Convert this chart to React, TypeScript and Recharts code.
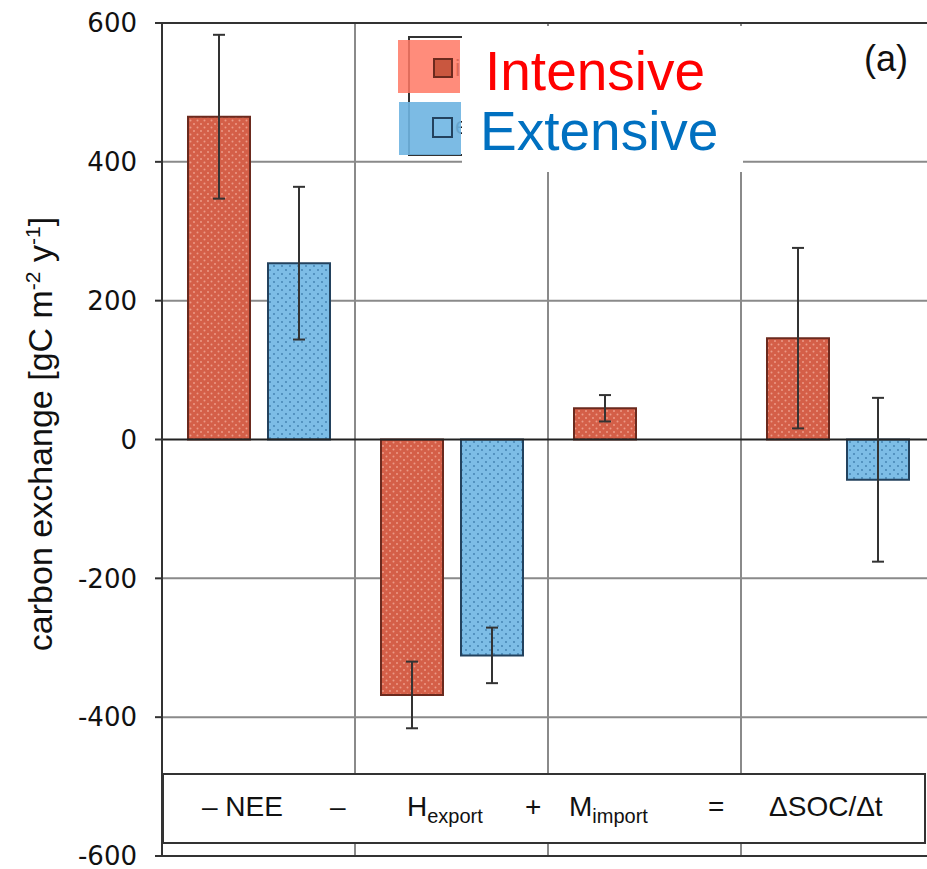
import React from "react";
import {
  Bar,
  CartesianGrid,
  ComposedChart,
  ErrorBar,
  ReferenceLine,
  XAxis,
  YAxis,
} from "recharts";

// values (gC m-2 y-1)
const categories = ["NEE", "Hexport", "Mimport", "dSOC"];
const intensive = [465, -368, 45, 146];
const intensiveErr = [118, 48, 19, 130];
const extensive: (number | null)[] = [254, -311, null, -58];
const extensiveErr: (number | null)[] = [110, 40, null, 118];
const yTicks = [-600, -400, -200, 0, 200, 400, 600];

const data = categories.map((name, i) => ({
  name,
  intensive: intensive[i],
  intensiveErr: intensiveErr[i],
  extensive: extensive[i],
  extensiveErr: extensiveErr[i],
}));

const sans = '"Liberation Sans", Arial, sans-serif';
const wide = '"DejaVu Sans", Arial, sans-serif';

const YLabel = () => (
  <text
    transform="translate(52, 434) rotate(-90)"
    textAnchor="middle"
    fontFamily={sans}
    fontSize={34}
    fill="#111"
  >
    carbon exchange [gC m
    <tspan dy={-12} fontSize={21}>-2</tspan>
    <tspan dy={12}> y</tspan>
    <tspan dy={-12} fontSize={21}>-1</tspan>
    <tspan dy={12}>]</tspan>
  </text>
);

export default function App() {
  return (
    <div
      style={{
        position: "absolute",
        left: 0,
        top: 0,
        width: 927,
        height: 869,
        overflow: "hidden",
        background: "#fff",
      }}
    >
      {/* dotted fills */}
      <svg width={0} height={0} style={{ position: "absolute" }}>
        <defs>
          <pattern id="dotRed" width={7} height={7} patternUnits="userSpaceOnUse">
            <rect width={7} height={7} fill="#d45f48" />
            <circle cx={1.5} cy={1.5} r={1} fill="#ec9a87" />
            <circle cx={5} cy={5} r={1} fill="#ec9a87" />
          </pattern>
          <pattern id="dotBlue" width={8} height={8} patternUnits="userSpaceOnUse">
            <rect width={8} height={8} fill="#7dbde6" />
            <circle cx={2} cy={2} r={0.9} fill="#3f7fae" />
            <circle cx={6} cy={6} r={0.9} fill="#3f7fae" />
          </pattern>
        </defs>
      </svg>

      <ComposedChart
        width={934}
        height={869}
        data={data}
        margin={{ top: 23, right: 0, bottom: 13, left: 0 }}
        barGap={18}
      >
        <CartesianGrid
          stroke="#8a8a8a"
          strokeWidth={2}
          horizontalValues={[-400, -200, 200, 400]}
          verticalCoordinatesGenerator={({ offset }: any) =>
            [1, 2, 3].map((i) => offset.left + (offset.width * i) / 4)
          }
        />
        <XAxis dataKey="name" hide />
        <YAxis
          width={162}
          domain={[-600, 600]}
          ticks={yTicks}
          interval={0}
          tick={{ fontFamily: wide, fontSize: 26, fill: "#111" }}
          tickSize={7}
          tickMargin={18}
          tickLine={{ stroke: "#333", strokeWidth: 2 }}
          axisLine={{ stroke: "#333", strokeWidth: 2 }}
          label={<YLabel />}
        />
        <ReferenceLine y={600} stroke="#333" strokeWidth={2} />
        <ReferenceLine y={-600} stroke="#333" strokeWidth={2} />
        <ReferenceLine y={0} stroke="#222" strokeWidth={2} />
        <Bar
          dataKey="intensive"
          barSize={62}
          fill="url(#dotRed)"
          stroke="#6b2a1e"
          strokeWidth={2}
          isAnimationActive={false}
        >
          <ErrorBar dataKey="intensiveErr" width={6} stroke="#333" strokeWidth={2} />
        </Bar>
        <Bar
          dataKey="extensive"
          barSize={62}
          fill="url(#dotBlue)"
          stroke="#23425e"
          strokeWidth={2}
          isAnimationActive={false}
        >
          <ErrorBar dataKey="extensiveErr" width={6} stroke="#333" strokeWidth={2} />
        </Bar>
      </ComposedChart>

      {/* equation box */}
      <div
        style={{
          position: "absolute",
          left: 162,
          top: 773,
          width: 760,
          height: 67,
          border: "2px solid #333",
          background: "#fff",
          fontFamily: sans,
          fontSize: 28,
          color: "#111",
        }}
      >
        {[
          { x: 38, t: <>– NEE</> },
          { x: 166, t: <>–</> },
          { x: 243, t: <>H<sub style={{ fontSize: 20, lineHeight: 0 }}>export</sub></> },
          { x: 361, t: <>+</> },
          { x: 405, t: <>M<sub style={{ fontSize: 20, lineHeight: 0 }}>import</sub></> },
          { x: 544, t: <>=</> },
          { x: 605, t: <>ΔSOC/Δt</> },
        ].map((d, i) => (
          <span key={i} style={{ position: "absolute", left: d.x, top: 18, lineHeight: "28px", whiteSpace: "nowrap" }}>
            {d.t}
          </span>
        ))}
      </div>

      {/* panel label */}
      <div style={{ position: "absolute", left: 864, top: 38, fontFamily: sans, fontSize: 36, color: "#111" }}>
        (a)
      </div>

      {/* legend: original box with coloured overlays */}
      <div style={{ position: "absolute", left: 408, top: 36, width: 60, height: 116, border: "2px solid #333", background: "#fff" }} />
      <div style={{ position: "absolute", left: 455, top: 54, fontFamily: sans, fontSize: 24, color: "#111" }}>i</div>
      <div style={{ position: "absolute", left: 455, top: 112, fontFamily: sans, fontSize: 24, color: "#111" }}>e</div>
      <div style={{ position: "absolute", left: 398, top: 40, width: 62, height: 53, background: "rgba(255,120,100,0.85)" }} />
      <div style={{ position: "absolute", left: 399, top: 102, width: 62, height: 53, background: "rgba(110,180,225,0.9)" }} />
      <div style={{ position: "absolute", left: 433, top: 58, width: 16, height: 16, backgroundColor: "#c9573f", border: "2px solid #6b2a1e" }} />
      <div style={{ position: "absolute", left: 432, top: 117, width: 17, height: 17, backgroundColor: "#7dbde6", border: "2px solid #23425e" }} />
      <div
        style={{
          position: "absolute",
          left: 462,
          top: 26,
          width: 281,
          height: 146,
          background: "#fff",
          fontFamily: sans,
          fontSize: 55,
          lineHeight: "60px",
        }}
      >
        <div style={{ position: "absolute", left: 23, top: 15, color: "#ff0000" }}>Intensive</div>
        <div style={{ position: "absolute", left: 18, top: 75, color: "#0070c0" }}>Extensive</div>
      </div>
    </div>
  );
}
